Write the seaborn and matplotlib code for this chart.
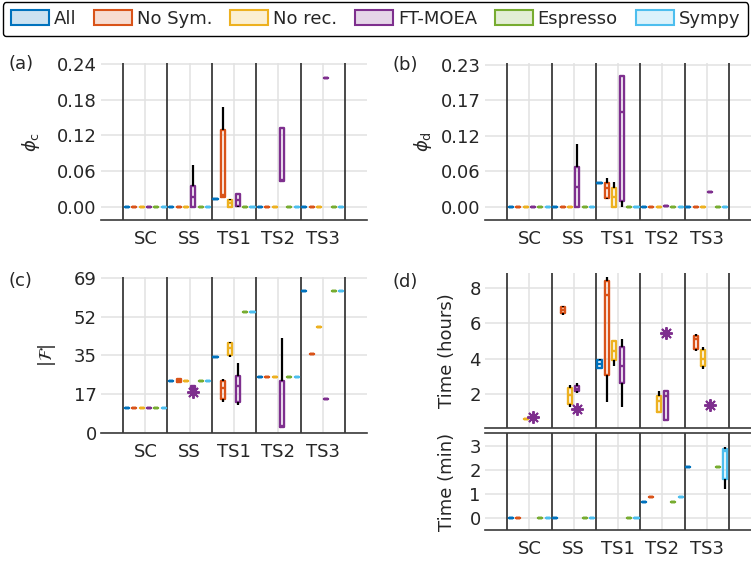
import numpy as np
import pandas as pd
import seaborn as sns
import matplotlib.pyplot as plt
from matplotlib.patches import Patch
from matplotlib.colors import to_rgba

GROUPS = ["SC", "SS", "TS1", "TS2", "TS3"]
METHODS = ["All", "No Sym.", "No rec.", "FT-MOEA", "Espresso", "Sympy"]
COLORS = ["#0072BD", "#D95319", "#EDB120", "#7E2F8E", "#77AC30", "#4DBEEE"]

# one entry per group: a single value, (low, q1, median, q3, high), or None
PHI_C = {
    "All": [0, 0, 0.0124, 0, 0],
    "No Sym.": [0, 0, (0.017, 0.017, 0.02, 0.130, 0.168), 0, 0],
    "No rec.": [0, 0, (0.0, 0.0, 0.006, 0.011, 0.013), 0, 0],
    "FT-MOEA": [0, (0, 0, 0.017, 0.035, 0.070), (0, 0.002, 0.012, 0.022, 0.022),
                (0.043, 0.043, 0.045, 0.133, 0.133), 0.217],
    "Espresso": [0, 0, 0, 0, 0],
    "Sympy": [0, 0, 0, 0, 0],
}

PHI_D = {
    "All": [0, 0, 0.039, 0, 0],
    "No Sym.": [0, 0, (0.012, 0.0135, 0.03, 0.039, 0.047), 0, 0],
    "No rec.": [0, 0, (0, 0, 0.015, 0.030, 0.0395), 0, 0],
    "FT-MOEA": [0, (0, 0, 0.0325, 0.064, 0.102), (0, 0.0097, 0.154, 0.212, 0.212), 0.001, 0.0233],
    "Espresso": [0, 0, 0, 0, 0],
    "Sympy": [0, 0, 0, 0, 0],
}

F_SIZE = {
    "All": [11, 23, 34, 25, 63],
    "No Sym.": [11, (22.6, 22.6, 23.4, 24.2, 24.2), (13.7, 15.1, 20.0, 23.0, 24.2), 25, 35],
    "No rec.": [11, 23, (33.8, 34.7, 37.8, 40.1, 40.7), 25, 47],
    "FT-MOEA": [11, (19.0, 19.0, 20.0, 21.1, 21.1), (12.5, 13.7, 21.1, 25.2, 31.2),
                (2.7, 2.7, 2.9, 23.0, 42.1), 15],
    "Espresso": [11, 23, 54, 25, 63],
    "Sympy": [11, 23, 54, 25, 63],
}
F_SIZE_OUT = [("SS", "FT-MOEA", 18.3)]

TIME_H = {
    "All": [None, None, (3.5, 3.5, 3.7, 3.92, 4.0), None, None],
    "No Sym.": [None, (6.5, 6.58, 6.75, 6.92, 7.0), (1.57, 3.1, 7.63, 8.38, 8.65), None,
                (4.44, 4.57, 5.1, 5.27, 5.38)],
    "No rec.": [0.6, (1.29, 1.47, 1.94, 2.38, 2.5), (3.58, 3.92, 4.44, 5.0, 5.0),
                (1.0, 1.0, 1.6, 1.89, 2.19), (3.45, 3.58, 3.97, 4.52, 4.7)],
    "FT-MOEA": [None, (2.09, 2.17, 2.3, 2.45, 2.66), (1.29, 2.66, 3.58, 4.67, 5.14),
                (0.54, 0.54, 1.89, 2.17, 2.17), None],
    "Espresso": [None] * 5,
    "Sympy": [None] * 5,
}
TIME_H_OUT = [("SC", "FT-MOEA", 0.72), ("SS", "FT-MOEA", 1.19),
              ("TS2", "FT-MOEA", 5.46), ("TS3", "FT-MOEA", 1.38)]

TIME_MIN = {
    "All": [0, 0, None, 0.66, 2.12],
    "No Sym.": [0, None, None, 0.88, None],
    "No rec.": [None] * 5,
    "FT-MOEA": [None] * 5,
    "Espresso": [0, 0, 0, 0.66, 2.12],
    "Sympy": [0, 0, 0, 0.88, (1.21, 1.63, 2.8, 2.89, 2.97)],
}

W, H = 751, 563
INK = "#262626"

sns.set_theme(style="white")
plt.rcParams["font.family"] = ["DejaVu Sans"]
plt.rcParams["font.size"] = 13
plt.rcParams["text.color"] = INK
plt.rcParams["axes.labelcolor"] = INK
plt.rcParams["xtick.color"] = INK
plt.rcParams["ytick.color"] = INK


def to_long(table):
    rows = []
    for method, entries in table.items():
        for group, entry in zip(GROUPS, entries):
            if entry is None:
                continue
            values = entry if isinstance(entry, tuple) else (entry,)
            for v in values:
                rows.append({"group": group, "method": method, "value": v})
    return pd.DataFrame(rows)


def px_axes(fig, left, top, right, bottom):
    return fig.add_axes([left / W, 1 - bottom / H, (right - left) / W, (bottom - top) / H])


def draw_panel(ax, table, outliers, ylim, yticks, yticklabels, ylabel, label_x, show_x=True):
    df = to_long(table)
    sns.boxplot(data=df, x="group", y="value", hue="method", order=GROUPS, hue_order=METHODS,
                palette=COLORS, width=1.0, gap=0.45, fill=False, whis=(0, 100), linewidth=1.7,
                showcaps=False, showfliers=False, legend=False,
                whiskerprops={"color": "black", "linewidth": 1.6}, ax=ax)
    for g, m, v in outliers:
        x = GROUPS.index(g) + (METHODS.index(m) - 2.5) / len(METHODS)
        ax.plot(x, v, ls="none", marker=(8, 2, 0), ms=9, mew=1.4,
                color=COLORS[METHODS.index(m)], zorder=4)
    for b in np.arange(len(GROUPS) + 1) - 0.5:
        ax.axvline(b, color="#3a3a3a", lw=1.3, zorder=1.5)
    ax.set_xlim(-1, 5)
    ax.set_ylim(*ylim)
    ax.set_yticks(yticks, yticklabels)
    ax.set_xticks(range(len(GROUPS)), GROUPS if show_x else [])
    ax.grid(True, color="#e2e2e2", lw=1.1)
    ax.set_axisbelow(True)
    for s in ["top", "right", "left"]:
        ax.spines[s].set_visible(False)
    ax.spines["bottom"].set_color("#3a3a3a")
    ax.spines["bottom"].set_linewidth(1.2)
    ax.tick_params(axis="y", length=0, pad=3, labelsize=13)
    ax.tick_params(axis="x", direction="in", length=3, width=1, pad=7, labelsize=13)
    ax.set_xlabel("")
    ax.set_ylabel(ylabel, fontsize=13)
    ax.yaxis.set_label_coords(label_x, 0.5)


fig = plt.figure(figsize=(W / 100, H / 100), dpi=100)

ax_a = px_axes(fig, 101, 63, 367, 220)
draw_panel(ax_a, PHI_C, [], (-0.0223, 0.242), [0, 0.06, 0.12, 0.18, 0.24],
           ["0.00", "0.06", "0.12", "0.18", "0.24"], r"$\phi_{\mathrm{c}}$", -0.22)

ax_b = px_axes(fig, 485, 63, 751, 220)
draw_panel(ax_b, PHI_D, [], (-0.0216, 0.2332), [0, 0.0575, 0.115, 0.1725, 0.23],
           ["0.00", "0.06", "0.12", "0.17", "0.23"], r"$\phi_{\mathrm{d}}$", -0.19)

ax_c = px_axes(fig, 101, 277, 367, 433)
draw_panel(ax_c, F_SIZE, F_SIZE_OUT, (0, 69.4), [0, 17.25, 34.5, 51.75, 69],
           ["0", "17", "35", "52", "69"], r"$|\mathcal{F}|$", -0.16)

ax_d1 = px_axes(fig, 485, 273, 751, 428)
draw_panel(ax_d1, TIME_H, TIME_H_OUT, (0.1, 8.85), [2, 4, 6, 8],
           ["2", "4", "6", "8"], "Time (hours)", -0.11, show_x=False)

ax_d2 = px_axes(fig, 485, 433, 751, 530)
draw_panel(ax_d2, TIME_MIN, [], (-0.49, 3.56), [0, 1, 2, 3],
           ["0", "1", "2", "3"], "Time (min)", -0.11)
ax_d2.spines["top"].set_visible(True)
ax_d2.spines["top"].set_color("#3a3a3a")
ax_d2.spines["top"].set_linewidth(1.2)

for txt, x, y in [("(a)", 8, 64), ("(b)", 392, 65), ("(c)", 8, 281), ("(d)", 392, 282)]:
    fig.text(x / W, 1 - y / H, txt, fontsize=13, va="center", ha="left")

handles = [Patch(facecolor=to_rgba(c, 0.2), edgecolor=c, linewidth=1.5) for c in COLORS]
leg = fig.legend(handles, METHODS, loc="upper center", bbox_to_anchor=(0.5, 1 - 2 / H),
                 borderaxespad=0, ncol=6, frameon=True, fancybox=True, edgecolor="black",
                 framealpha=1, handlelength=2.1, handleheight=0.9, handletextpad=0.26,
                 columnspacing=1.0, borderpad=0.45, fontsize=13)
leg.get_frame().set_linewidth(1.0)

fig.savefig("out.png", dpi=100)
